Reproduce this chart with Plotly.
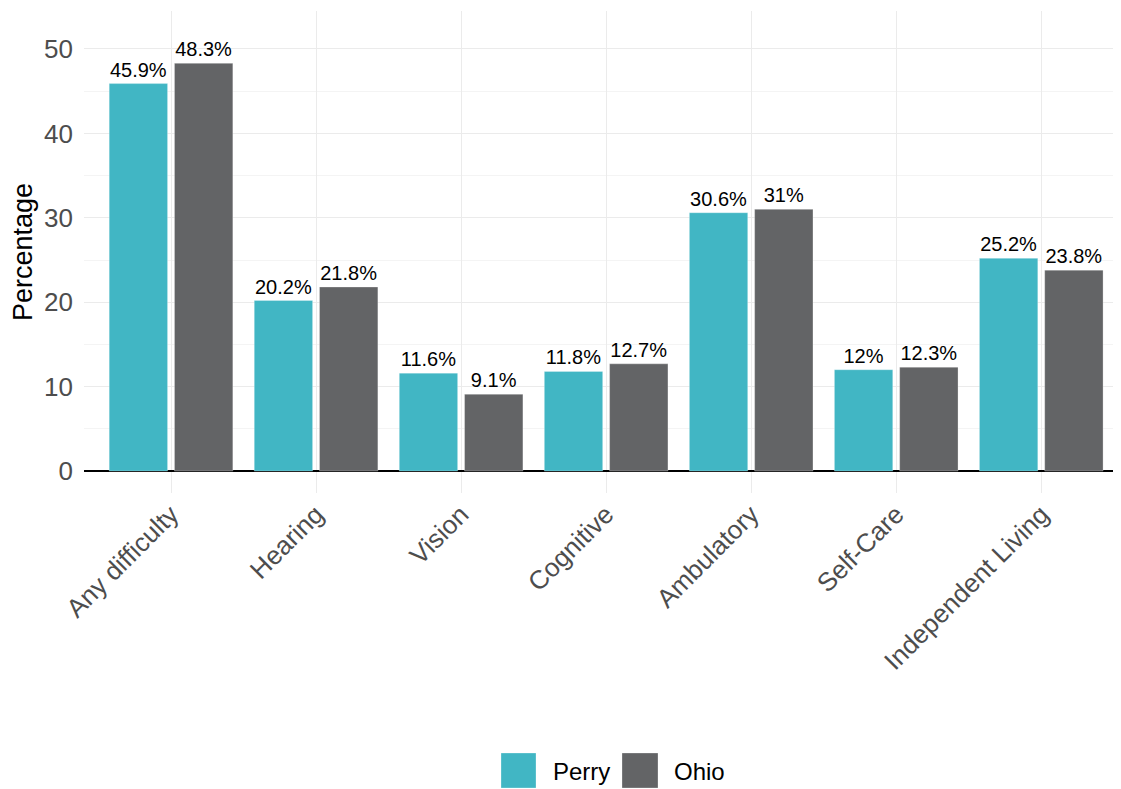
import plotly.graph_objects as go

# ---- data ----
categories = ["Any difficulty", "Hearing", "Vision", "Cognitive",
              "Ambulatory", "Self-Care", "Independent Living"]
perry = [45.9, 20.2, 11.6, 11.8, 30.6, 12, 25.2]
ohio = [48.3, 21.8, 9.1, 12.7, 31, 12.3, 23.8]
series_names = ["Perry", "Ohio"]
series_values = [perry, ohio]
y_ticks = [0, 10, 20, 30, 40, 50]

# ---- style ----
colors = ["#41B6C4", "#636466"]
FONT = "Liberation Sans, Arial, sans-serif"
OFF = 8  # page body margin
W, H = 1121, 789 - OFF
L, R, T = 84 - OFF, 0, 11 - OFF
B = H - (493 - OFF)
PW, PH = W - L - R, H - T - B


def px_x(px):
    # page pixel -> paper x
    return (px - OFF - L) / PW


def px_y(py):
    # page pixel -> paper y
    return (H - B - (py - OFF)) / PH


fig = go.Figure()
for name, vals, col in zip(series_names, series_values, colors):
    fig.add_trace(go.Bar(
        x=categories, y=vals, name=name,
        marker=dict(color=col, line=dict(width=0.8, color="rgba(255,255,255,0.35)")),
        text=[f"{v:g}%" for v in vals], textposition="outside",
        textfont=dict(size=20, color="black", family=FONT),
        constraintext="none", cliponaxis=False, showlegend=False,
    ))

fig.update_layout(
    width=W, height=H,
    margin=dict(l=L, r=R, t=T, b=B, autoexpand=False),
    paper_bgcolor="white", plot_bgcolor="white",
    barmode="group", bargap=0.10, bargroupgap=0.106,
    font=dict(family=FONT, color="black"),
    showlegend=False,
)

fig.update_xaxes(
    range=[-0.6, 6.605], showgrid=True, gridcolor="#EBEBEB", gridwidth=1.2,
    tickangle=-45, tickfont=dict(size=26, color="#4D4D4D", family=FONT),
    showline=False, zeroline=False, ticks="", automargin=False,
)
fig.update_yaxes(
    range=[-2.6, 54.5], tickvals=y_ticks, ticktext=[str(v) for v in y_ticks],
    showgrid=True, gridcolor="#EBEBEB", gridwidth=1.3,
    minor=dict(dtick=5, tick0=0, showgrid=True, gridcolor="#F4F4F4", gridwidth=1),
    zeroline=True, zerolinecolor="black", zerolinewidth=1.6,
    tickfont=dict(size=26, color="#4D4D4D", family=FONT),
    ticklabelstandoff=10, ticks="",
    title=dict(text="Percentage", font=dict(size=27, color="black", family=FONT), standoff=8),
    automargin=False, showline=False,
)

# legend drawn as large key squares with text labels
legend_keys = [(501, 536, 551), (622, 658, 672)]
for (x0, x1, tx), name, col in zip(legend_keys, series_names, colors):
    fig.add_shape(type="rect", xref="paper", yref="paper",
                  x0=px_x(x0), x1=px_x(x1), y0=px_y(788), y1=px_y(753),
                  fillcolor=col, line=dict(width=0.8, color="rgba(255,255,255,0.35)"))
    fig.add_annotation(text=name, xref="paper", yref="paper",
                       x=px_x(tx), y=px_y(771), xanchor="left", yanchor="middle",
                       showarrow=False, font=dict(size=24, color="black", family=FONT))

fig.write_html("out.html")
